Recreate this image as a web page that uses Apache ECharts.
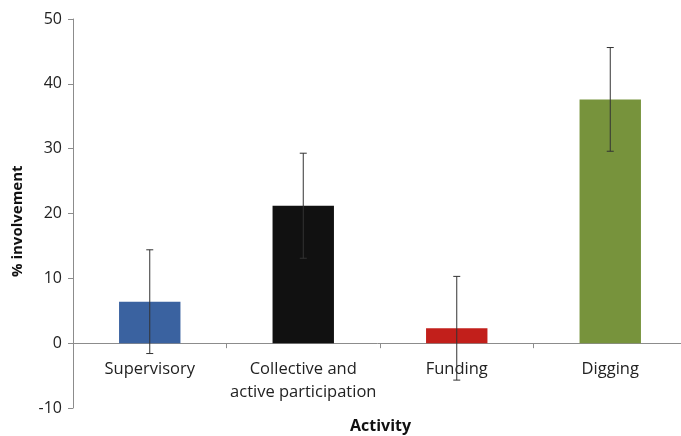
<!DOCTYPE html>
<html>
<head>
<meta charset="utf-8">
<script src="https://cdn.jsdelivr.net/npm/echarts@6/dist/echarts.min.js"></script>
<style>
  html, body { margin: 0; padding: 0; background: #fff; }
  #chart { width: 681px; height: 436px; }
</style>
</head>
<body>
<div id="chart"></div>
<script>
// Share of involvement per activity, with symmetric error margins
const categories = ['Supervisory', 'Collective and\nactive participation', 'Funding', 'Digging'];
const involvement = [6.4, 21.2, 2.3, 37.6];
const errorMargin = [8.0, 8.1, 8.0, 8.0];
const barColors = ['#3A62A0', '#111111', '#C21F1B', '#77933C'];
const yTicks = { min: -10, max: 50, interval: 10 };

const FONT = '"Open Sans", sans-serif';

const chart = echarts.init(document.getElementById('chart'), null, { renderer: 'canvas' });

const errorData = involvement.map((v, i) => [i, v - errorMargin[i], v + errorMargin[i]]);

// the category axis sits on the zero line, one interval above the bottom of the grid
const gridHeight = 389;
const zeroOffset = -gridHeight * (0 - yTicks.min) / (yTicks.max - yTicks.min);

chart.setOption({
  animation: false,
  backgroundColor: '#ffffff',
  grid: { left: 73, top: 19, width: 614, height: gridHeight, containLabel: false, outerBoundsMode: 'none' },
  xAxis: {
    type: 'category',
    data: categories,
    offset: zeroOffset,
    axisLine: { onZero: false, lineStyle: { color: '#8c8c8c', width: 1 } },
    axisTick: { show: true, inside: false, length: 5, alignWithLabel: false, lineStyle: { color: '#8c8c8c' } },
    axisLabel: {
      interval: 0, margin: 15, color: '#222', fontFamily: FONT, fontSize: 16.5, lineHeight: 23
    },
    splitLine: { show: false }
  },
  yAxis: {
    type: 'value',
    min: yTicks.min, max: yTicks.max, interval: yTicks.interval,
    axisLine: { show: true, lineStyle: { color: '#8c8c8c', width: 1 } },
    axisTick: { show: true, inside: false, length: 5, lineStyle: { color: '#8c8c8c' } },
    axisLabel: { margin: 11, color: '#222', fontFamily: FONT, fontSize: 16 },
    splitLine: { show: false }
  },
  graphic: [
    {
      type: 'text', left: 350, top: 418,
      style: { text: 'Activity', fill: '#111', font: 'bold 16px ' + FONT }
    },
    {
      type: 'text', x: 10, y: 277, rotation: Math.PI / 2,
      style: { text: '% involvement', fill: '#111', font: 'bold 15px ' + FONT }
    }
  ],
  series: [
    {
      type: 'bar',
      barWidth: '40%',
      data: involvement.map((v, i) => ({ value: v, itemStyle: { color: barColors[i] } })),
      z: 2
    },
    {
      type: 'custom',
      data: errorData,
      z: 5,
      renderItem: function (params, api) {
        const x = api.value(0);
        const lo = api.coord([x, api.value(1)]);
        const hi = api.coord([x, api.value(2)]);
        const cap = 3.5;
        const style = { stroke: '#333', lineWidth: 1 };
        return {
          type: 'group',
          children: [
            { type: 'line', shape: { x1: lo[0], y1: lo[1], x2: hi[0], y2: hi[1] }, style },
            { type: 'line', shape: { x1: hi[0] - cap, y1: hi[1], x2: hi[0] + cap, y2: hi[1] }, style },
            { type: 'line', shape: { x1: lo[0] - cap, y1: lo[1], x2: lo[0] + cap, y2: lo[1] }, style }
          ]
        };
      }
    }
  ]
});
</script>
</body>
</html>
